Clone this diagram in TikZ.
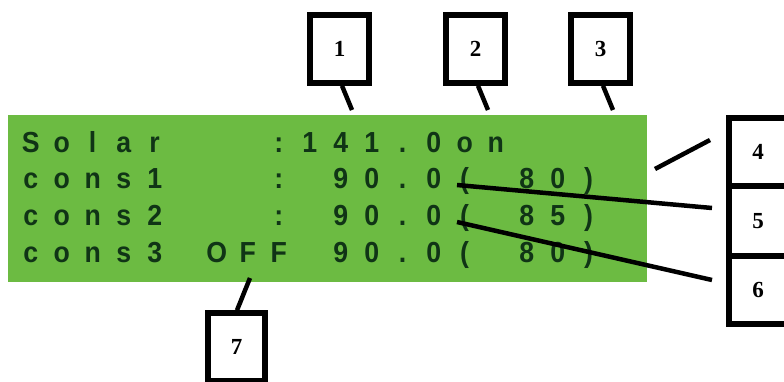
\documentclass[tikz,border=0pt]{standalone}
\usepackage{fontspec}
\newfontfamily\lcdfont[FakeStretch=0.92]{Liberation Sans}
\newfontfamily\numfont{Liberation Serif}
\definecolor{lcdgreen}{RGB}{108,187,66}
\definecolor{lcdtext}{RGB}{16,52,22}
\newcommand\lcdchars[1]{\lcdloop#1\relax}
\def\lcdloop#1{\ifx\relax#1\else\makebox[31pt]{#1}\expandafter\lcdloop\fi}
\tikzset{
  lcdline/.style={anchor=base west, inner sep=0pt, text=lcdtext, font=\lcdfont\bfseries\fontsize{29}{29}\selectfont},
  numbox/.style={draw=black, line width=5.5pt, fill=white, inner sep=0pt, font=\numfont\bfseries\fontsize{23}{23}\selectfont},
  callout/.style={draw=black, line width=4.5pt},
}
\begin{document}
\begin{tikzpicture}[x=1pt,y=-1pt]
\useasboundingbox (0,0) rectangle (784,381);
\clip (0,0) rectangle (784,381);
% display
\node[fill=lcdgreen, draw=none, minimum width=639pt, minimum height=167pt, inner sep=0pt, anchor=north west] (lcd) at (8,115) {};
\node[lcdline] (r1) at (15,152) {\lcdchars{Solar~~~:141.0on}};
\node[lcdline] (r2) at (15,188) {\lcdchars{cons1~~~:~90.0(~80)}};
\node[lcdline] (r3) at (15,225) {\lcdchars{cons2~~~:~90.0(~85)}};
\node[lcdline] (r4) at (15,262) {\lcdchars{cons3~OFF~90.0(~80)}};
% number boxes
\node[numbox, minimum width=59pt, minimum height=68pt] (b1) at (339.5,49) {1};
\node[numbox, minimum width=59pt, minimum height=68pt] (b2) at (475.5,49) {2};
\node[numbox, minimum width=59pt, minimum height=68pt] (b3) at (600.5,49) {3};
\node[numbox, minimum width=58pt, minimum height=68pt] (b4) at (758,152) {4};
\node[numbox, minimum width=58pt, minimum height=70pt] (b5) at (758,221) {5};
\node[numbox, minimum width=58pt, minimum height=68pt] (b6) at (758,290) {6};
\node[numbox, minimum width=57pt, minimum height=68pt] (b7) at (236.5,347) {7};
% callout ends
\coordinate (t1) at (352,110);
\coordinate (t2) at (488,110);
\coordinate (t3) at (613,110);
\coordinate (s4) at (710,140);
\coordinate (t4) at (655,169);
\coordinate (s5) at (712,208);
\coordinate (t5) at (457,185);
\coordinate (s6) at (712,280);
\coordinate (t6) at (457,222);
\coordinate (t7) at (250,278);
\draw[callout] ([xshift=2.5pt]b1.south) -- (t1);
\draw[callout] ([xshift=2.5pt]b2.south) -- (t2);
\draw[callout] ([xshift=2.5pt]b3.south) -- (t3);
\draw[callout] (s4) -- (t4);
\draw[callout] (s5) -- (t5);
\draw[callout] (s6) -- (t6);
\draw[callout] ([xshift=0.5pt]b7.north) -- (t7);
\end{tikzpicture}
\end{document}
